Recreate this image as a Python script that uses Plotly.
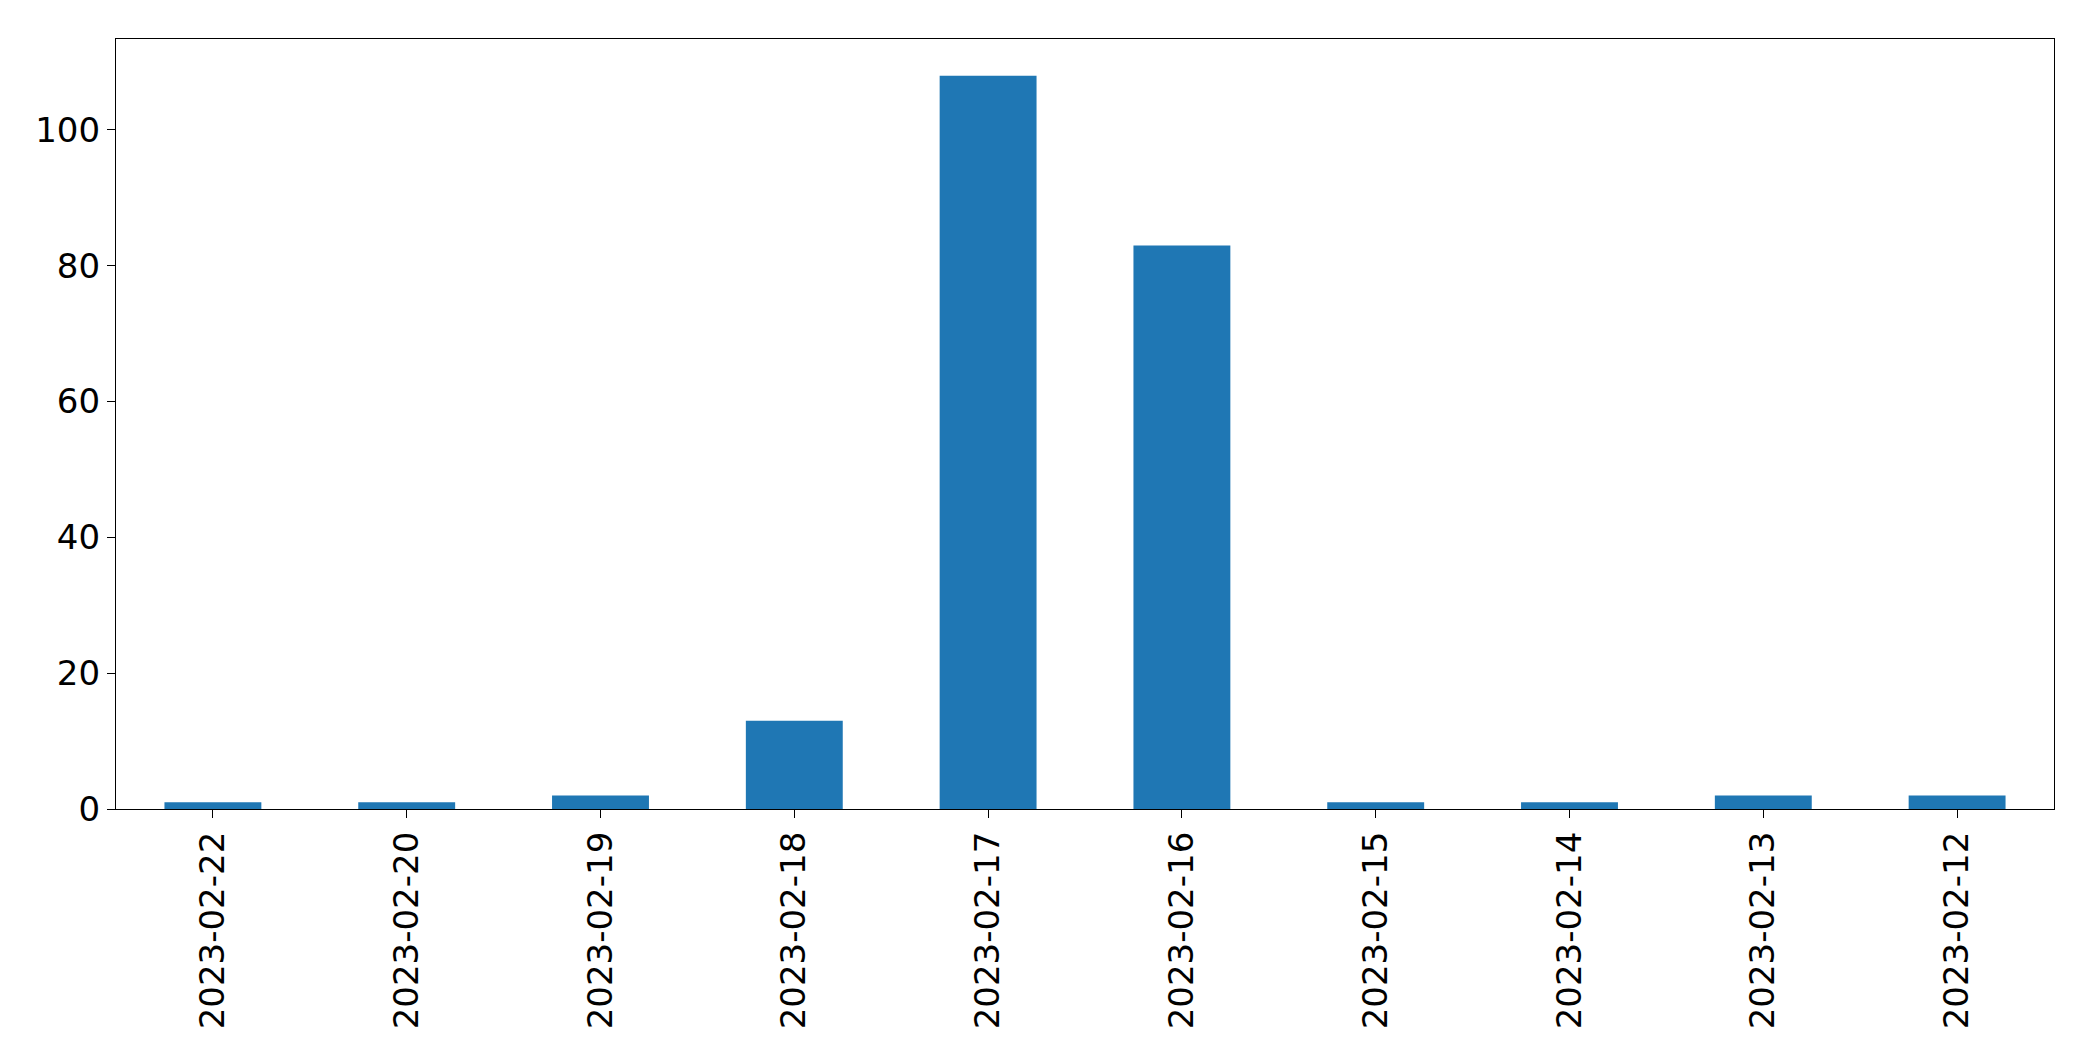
import plotly.graph_objects as go

dates = ["2023-02-22", "2023-02-20", "2023-02-19", "2023-02-18", "2023-02-17",
         "2023-02-16", "2023-02-15", "2023-02-14", "2023-02-13", "2023-02-12"]
counts = [1, 1, 2, 13, 108, 83, 1, 1, 2, 2]
y_ticks = [0, 20, 40, 60, 80, 100]

fig = go.Figure(go.Bar(x=dates, y=counts, marker=dict(color="#1f77b4", line=dict(width=0)),
                       width=0.5))

font = dict(family="DejaVu Sans", size=34, color="black")
fig.update_layout(
    width=2093, height=1061,
    margin=dict(l=116, r=39, t=39, b=252),
    paper_bgcolor="white", plot_bgcolor="white",
    showlegend=False,
    font=font,
)
fig.update_xaxes(
    type="category", range=[-0.5, 9.5], tickangle=-90,
    showline=True, mirror=True, linecolor="black", linewidth=1.3,
    ticks="outside", ticklen=8, tickwidth=1.3, tickcolor="black",
    showgrid=False, zeroline=False, tickfont=font, automargin=False,
    ticklabelstandoff=0,
)
fig.update_yaxes(
    range=[0, 113.4], tickvals=y_ticks, ticktext=[str(v) for v in y_ticks],
    showline=True, mirror=True, linecolor="black", linewidth=1.3,
    ticks="outside", ticklen=8, tickwidth=1.3, tickcolor="black",
    showgrid=False, zeroline=False, tickfont=font, automargin=False,
)
fig.write_html("out.html", config={"displayModeBar": False},
               post_script="document.body.style.margin='0';document.body.style.overflow='hidden';")
